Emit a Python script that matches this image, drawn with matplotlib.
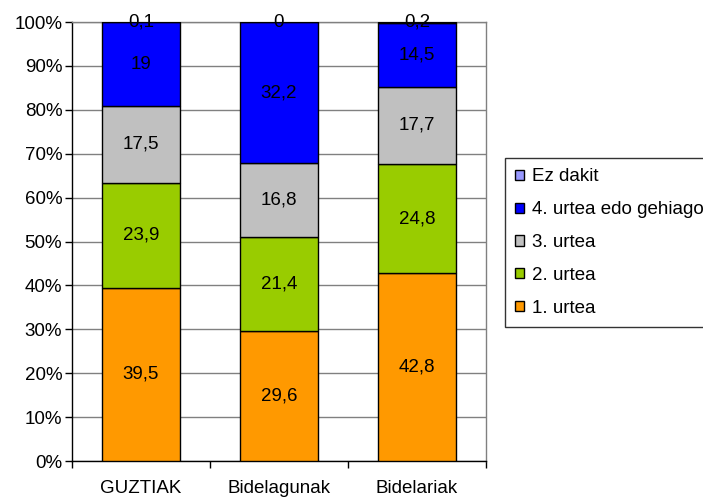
"""Stacked 100% bar chart of study year by group."""

import matplotlib

matplotlib.use("Agg")
import matplotlib.pyplot as plt
import numpy as np

groups = ["GUZTIAK", "Bidelagunak", "Bidelariak"]
series_names = ["1. urtea", "2. urtea", "3. urtea", "4. urtea edo gehiago", "Ez dakit"]
urtea_1 = [39.5, 29.6, 42.8]
urtea_2 = [23.9, 21.4, 24.8]
urtea_3 = [17.5, 16.8, 17.7]
urtea_4 = [19.0, 32.2, 14.5]
ez_dakit = [0.1, 0.0, 0.2]
y_ticks = [0, 10, 20, 30, 40, 50, 60, 70, 80, 90, 100]

colors = ["#FF9900", "#99CC00", "#C0C0C0", "#0000FF", "#9999FF"]
FS = 13.5

plt.rcParams["font.family"] = ["Liberation Sans", "DejaVu Sans"]

fig = plt.figure(figsize=(7.03, 4.97), dpi=100)
ax = fig.add_axes([72 / 703, 1 - 461 / 497, (486 - 72) / 703, (461 - 22) / 497])

x = np.arange(len(groups))
series = [urtea_1, urtea_2, urtea_3, urtea_4, ez_dakit]
bottom = np.zeros(len(groups))
handles = []
for name, vals, col in zip(series_names, series, colors):
    vals = np.array(vals)
    bars = ax.bar(x, vals, bottom=bottom, width=0.565, color=col,
                  edgecolor="black", linewidth=1.0, label=name, zorder=3)
    handles.append(bars)
    for xi, b, v in zip(x, bottom, vals):
        label = f"{v:g}".replace(".", ",")
        ax.text(xi, b + v / 2, label, ha="center", va="center", fontsize=FS,
                color="black", zorder=4, clip_on=False)
    bottom += vals

ax.set_xlim(-0.5, len(groups) - 0.5)
ax.set_ylim(0, 100)
ax.set_yticks(y_ticks)
ax.set_yticklabels([f"{t}%" for t in y_ticks], fontsize=FS)
ax.yaxis.grid(True, color="#808080", linewidth=1.0, zorder=0)
ax.set_axisbelow(True)

ax.set_xticks(x)
ax.set_xticklabels(groups, fontsize=FS)
ax.set_xticks(np.arange(-0.5, len(groups)), minor=True)
ax.tick_params(axis="x", which="major", length=0, pad=14)
ax.tick_params(axis="x", which="minor", length=5, direction="out", width=1)
ax.tick_params(axis="y", length=5, direction="out", width=1, pad=2)

for side in ["left", "bottom"]:
    ax.spines[side].set_color("black")
    ax.spines[side].set_linewidth(1.0)
for side in ["top", "right"]:
    ax.spines[side].set_color("#808080")
    ax.spines[side].set_linewidth(1.0)

leg = fig.legend(handles[::-1], series_names[::-1],
                 loc="upper left", bbox_to_anchor=(505 / 703, 1 - 158 / 497),
                 fontsize=FS, frameon=True, fancybox=False, edgecolor="black",
                 handlelength=0.45, handleheight=0.45, handletextpad=0.45,
                 labelspacing=0.85, borderpad=0.55, borderaxespad=0)
leg.get_frame().set_linewidth(1.0)

fig.savefig("out.png", dpi=100)
